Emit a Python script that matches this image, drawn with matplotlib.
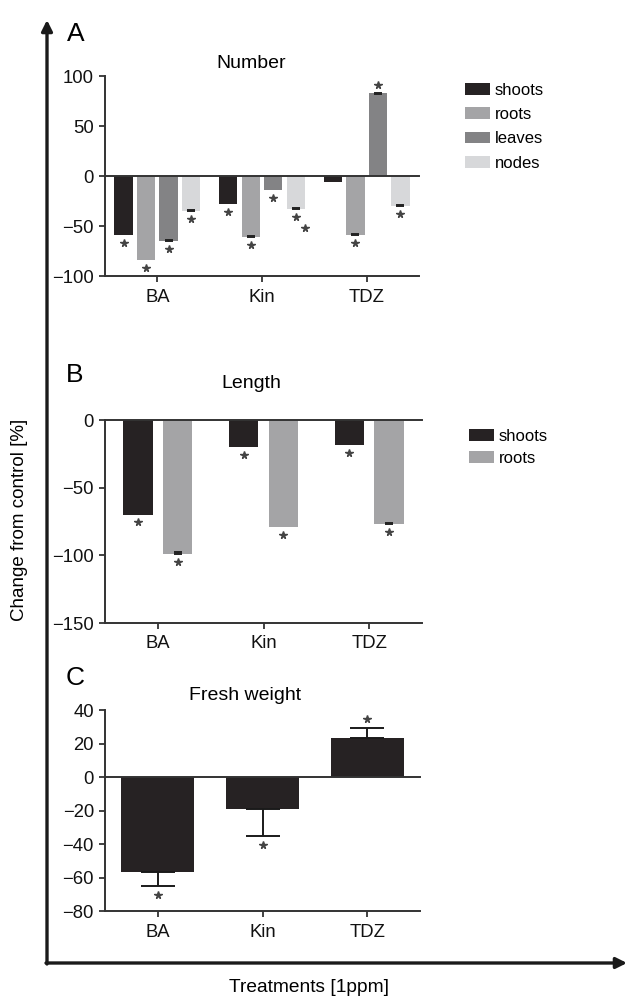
import matplotlib
matplotlib.use('Agg')
import matplotlib.pyplot as plt
import matplotlib.transforms as mtransforms
from matplotlib.patches import FancyArrowPatch, Patch
import numpy as np

plt.rcParams['font.family'] = ['Liberation Sans', 'DejaVu Sans']

# ==============================================================================
# DADOS
# ==============================================================================
tratamentos = ["BA", "Kin", "TDZ"]

# A - Number
numero_series = ["shoots", "roots", "leaves", "nodes"]
numero_valores = [
    [-59, -28, -6],
    [-84, -61, -59],
    [-65, -14, 83],
    [-35, -33, -30],
]
numero_erros = [
    [0, 0, 0],
    [0, 1, 1],
    [0.5, 0, 1],
    [1, 1, 1],
]
numero_estrelas = [
    [1, 1, 0],
    [1, 1, 1],
    [1, 1, 1],
    [1, 2, 1],
]
numero_ticks = [-100, -50, 0, 50, 100]

# B - Length
comprimento_series = ["shoots", "roots"]
comprimento_valores = [
    [-70, -20, -18.5],
    [-99, -79, -77],
]
comprimento_erros = [
    [0, 0, 0],
    [1.2, 0, 1],
]
comprimento_estrelas = [
    [1, 1, 1],
    [1, 1, 1],
]
comprimento_ticks = [-150, -100, -50, 0]

# C - Fresh weight
peso_valores = [-57, -19, 23]
peso_erros = [8, 16, 6]
peso_estrelas = [1, 1, 1]
peso_ticks = [-80, -60, -40, -20, 0, 20, 40]

cores = {
    "shoots": "#262223",
    "roots": "#a4a4a6",
    "leaves": "#838385",
    "nodes": "#d7d8da",
}
cor_eixo = "#333333"
cor_estrela = "#444444"

W, H = 627, 996
fig = plt.figure(figsize=(W / 100, H / 100), dpi=100)


def px(x, y):
    # pixel da imagem -> fracao da figura
    return x / W, 1 - y / H


def preparar_eixo(ax, ylim, ticks):
    ax.set_xlim(-0.5, 2.5)
    ax.set_ylim(*ylim)
    ax.set_yticks(ticks)
    ax.set_xticks(range(len(tratamentos)))
    ax.set_xticklabels(tratamentos)
    for lado in ['top', 'right']:
        ax.spines[lado].set_visible(False)
    for lado in ['left', 'bottom']:
        ax.spines[lado].set_linewidth(1.4)
        ax.spines[lado].set_color(cor_eixo)
    ax.tick_params(direction='out', length=4, width=1.3, color=cor_eixo,
                   labelsize=13.3, labelcolor='#111111')
    ax.tick_params(axis='y', pad=4)
    ax.tick_params(axis='x', pad=5)
    ax.axhline(0, color=cor_eixo, lw=1.4, zorder=4, clip_on=False)
    ax.patch.set_alpha(0)


def estrelas(ax, x, base, n, desloc=5.5):
    sinal = -1 if base < 0 else 1
    for k in range(n):
        tr = mtransforms.offset_copy(ax.transData, fig=fig, x=6.5 * k,
                                     y=sinal * (desloc + 8 * k), units='points')
        ax.plot([x], [base], marker='*', ms=5.5, color=cor_estrela, ls='none',
                transform=tr, clip_on=False, zorder=5)


def erro_para_zero(ax, x, v, e):
    # barrinha de erro pequena, desenhada para dentro da barra
    if e <= 0:
        return
    if v < 0:
        yerr = [[0], [e]]
    else:
        yerr = [[e], [0]]
    ax.errorbar([x], [v], yerr=yerr, fmt='none', ecolor='#222222',
                elinewidth=1.2, capsize=3, capthick=1.4, zorder=3)


def grupo_barras(ax, series, valores, erros, marcas, largura, passo):
    n = len(series)
    pos = np.arange(len(tratamentos))
    for i, nome in enumerate(series):
        xs = pos + (i - (n - 1) / 2) * passo
        ax.bar(xs, valores[i], width=largura, color=cores[nome], zorder=2, label=nome)
        for j in range(len(tratamentos)):
            erro_para_zero(ax, xs[j], valores[i][j], erros[i][j])
            if marcas[i][j]:
                estrelas(ax, xs[j], valores[i][j], marcas[i][j])


# --- Painel A ---
axA = fig.add_axes([px(105, 0)[0], px(0, 276)[1], 314 / W, 200 / H])
preparar_eixo(axA, (-100, 100), numero_ticks)
grupo_barras(axA, numero_series, numero_valores, numero_erros, numero_estrelas, 0.175, 0.215)

# --- Painel B ---
axB = fig.add_axes([px(105, 0)[0], px(0, 623)[1], 317 / W, 203 / H])
preparar_eixo(axB, (-150, 0), comprimento_ticks)
grupo_barras(axB, comprimento_series, comprimento_valores, comprimento_erros,
             comprimento_estrelas, 0.275, 0.375)

# --- Painel C ---
axC = fig.add_axes([px(105, 0)[0], px(0, 911)[1], 315 / W, 201 / H])
preparar_eixo(axC, (-80, 40), peso_ticks)
posC = np.arange(len(tratamentos))
axC.bar(posC, peso_valores, width=0.7, color=cores["shoots"], zorder=2)
for j, v in enumerate(peso_valores):
    if v < 0:
        yerr = [[peso_erros[j]], [0]]
        fim = v - peso_erros[j]
    else:
        yerr = [[0], [peso_erros[j]]]
        fim = v + peso_erros[j]
    axC.errorbar([posC[j]], [v], yerr=yerr, fmt='none', ecolor='#1a1a1a',
                 elinewidth=1.4, capsize=12, capthick=1.4, zorder=3)
    if peso_estrelas[j]:
        estrelas(axC, posC[j], fim, peso_estrelas[j], desloc=6.5)

# --- Titulos e letras ---
fig.text(*px(251, 63), "Number", ha='center', va='center', fontsize=14)
fig.text(*px(251, 383), "Length", ha='center', va='center', fontsize=14)
fig.text(*px(245, 695), "Fresh weight", ha='center', va='center', fontsize=14)
fig.text(*px(76, 34), "A", ha='center', va='center', fontsize=19)
fig.text(*px(75, 375), "B", ha='center', va='center', fontsize=19)
fig.text(*px(75, 678), "C", ha='center', va='center', fontsize=19)

fig.text(*px(20, 520), "Change from control [%]", rotation=90, ha='center', va='center', fontsize=13.5)
fig.text(*px(309, 987), "Treatments [1ppm]", ha='center', va='center', fontsize=13.8)

# --- Legendas ---
hA = [Patch(facecolor=cores[s], edgecolor='none') for s in numero_series]
fig.legend(hA, numero_series, loc='upper left', bbox_to_anchor=px(465, 83),
           frameon=False, fontsize=12, borderpad=0, borderaxespad=0,
           handlelength=1.5, handleheight=0.72, handletextpad=0.3, labelspacing=0.55)
hB = [Patch(facecolor=cores[s], edgecolor='none') for s in comprimento_series]
fig.legend(hB, comprimento_series, loc='upper left', bbox_to_anchor=px(469, 429),
           frameon=False, fontsize=12, borderpad=0, borderaxespad=0,
           handlelength=1.5, handleheight=0.72, handletextpad=0.3, labelspacing=0.4)

# --- Eixos grandes com setas ---
seta_v = FancyArrowPatch(px(47, 964), px(47, 20), transform=fig.transFigure,
                         arrowstyle='-|>', mutation_scale=16, lw=2.4, color='#1a1a1a',
                         shrinkA=0, shrinkB=0)
seta_h = FancyArrowPatch(px(46, 963), px(627, 963), transform=fig.transFigure,
                         arrowstyle='-|>', mutation_scale=16, lw=2.4, color='#1a1a1a',
                         shrinkA=0, shrinkB=0)
fig.add_artist(seta_v)
fig.add_artist(seta_h)

fig.savefig('out.png', dpi=100)
